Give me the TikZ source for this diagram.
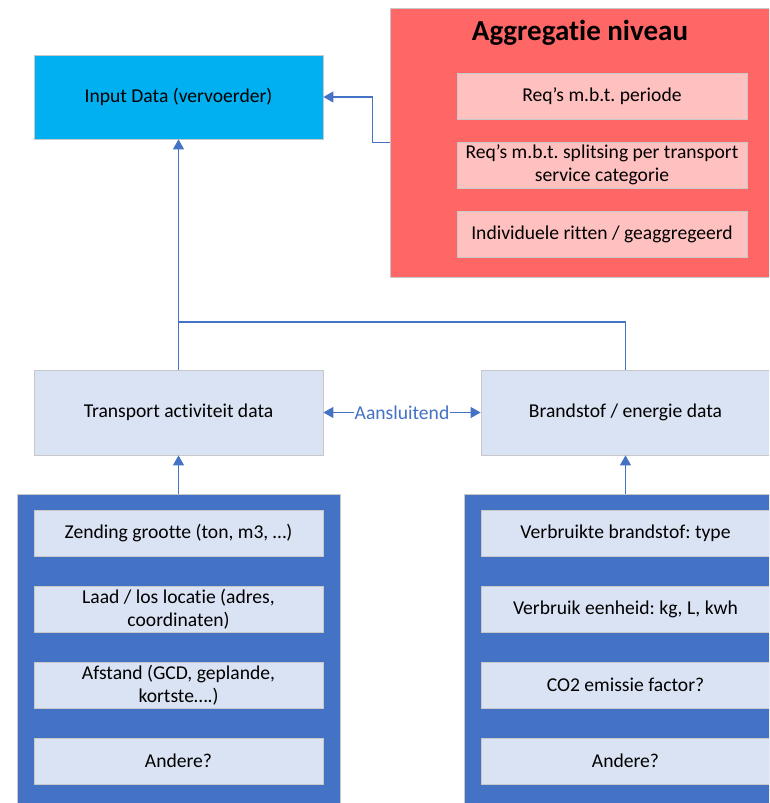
\documentclass[tikz,border=0pt]{standalone}
\usepackage{fontspec}
\setmainfont{Carlito}[Ligatures=CommonOff]
\usetikzlibrary{arrows.meta}

\definecolor{cyanbox}{HTML}{00B0F0}
\definecolor{redbox}{HTML}{FF6666}
\definecolor{pinkbox}{HTML}{FFC0C0}
\definecolor{palebox}{HTML}{DAE3F3}
\definecolor{darkbox}{HTML}{4472C4}
\definecolor{linecol}{HTML}{4472C4}
\definecolor{edgecol}{HTML}{C8C8C8}

\frenchspacing

\begin{document}
\begin{tikzpicture}[
    x=1pt, y=-1pt,
    font=\fontsize{19.6}{22.7}\selectfont,
    % Stijlen van de vakken
    databox/.style={rectangle, draw=edgecol, line width=0.8pt, fill=palebox,
        minimum width=289pt, minimum height=85pt, align=center, inner sep=2pt},
    itembox/.style={rectangle, draw=edgecol, line width=0.8pt, fill=palebox,
        minimum width=289pt, minimum height=46pt, align=center, inner sep=2pt},
    reqbox/.style={itembox, fill=pinkbox, minimum width=290pt},
    groupbox/.style={rectangle, draw=edgecol, line width=0.8pt, fill=darkbox,
        minimum width=323pt, minimum height=316pt},
    % Stijlen van de lijnen
    conn/.style={draw=linecol, line width=1.1pt},
    tip/.style={-{Triangle[length=10pt, width=11pt]}}
]

\clip (0,0) rectangle (769,803);

% ==========================================
% INPUT DATA EN AGGREGATIE NIVEAU
% ==========================================
\node[databox, fill=cyanbox, minimum height=84pt] (input) at (178.5,97) {Input Data (vervoerder)};

\node[groupbox, fill=redbox, minimum width=385pt, minimum height=269pt] (aggr) at (582.5,142.5) {};
\node[font=\fontsize{29}{32}\selectfont\bfseries] (aggrtitle) at (580,33) {Aggregatie niveau};
\node[reqbox] (periode) at (602,96) {Req’s m.b.t. periode};
\node[reqbox] (splitsing) at (602,165) {Req’s m.b.t. splitsing per transport\\service categorie};
\node[reqbox] (ritten) at (602,234) {Individuele ritten / geaggregeerd};

% ==========================================
% TRANSPORT EN BRANDSTOF
% ==========================================
\node[databox] (transport) at (178.5,412.5) {Transport activiteit data};
\node[databox] (brandstof) at (625.5,412.5) {Brandstof / energie data};

% Lijnen naar de input data
\coordinate (join) at (178.5,322);
\draw[conn, tip] (aggr.west) -- ++(-17,0) |- (input.east);
\draw[conn, tip] (transport.north) -- (input.south);
\draw[conn] (brandstof.north) |- (join);
\draw[conn, {Triangle[length=10pt, width=11pt]}-{Triangle[length=10pt, width=11pt]}]
    (transport.east) -- node[fill=white, text=linecol, inner sep=1pt] {Aansluitend} (brandstof.west);

% ==========================================
% DETAILS TRANSPORT (LINKS)
% ==========================================
\node[groupbox] (transgroup) at (178.5,652) {};
\node[itembox] (zending) at (178.5,533) {Zending grootte (ton, m3, …)};
\node[itembox] (locatie) at (178.5,609) {Laad / los locatie (adres,\\coordinaten)};
\node[itembox] (afstand) at (178.5,685) {Afstand (GCD, geplande,\\kortste….)};
\node[itembox] (andereT) at (178.5,761) {Andere?};
\draw[conn, tip] (transgroup.north) -- (transport.south);

% ==========================================
% DETAILS BRANDSTOF (RECHTS)
% ==========================================
\node[groupbox] (brandgroup) at (625.5,652) {};
\node[itembox] (soort) at (625.5,533) {Verbruikte brandstof: type};
\node[itembox] (eenheid) at (625.5,609) {Verbruik eenheid: kg, L, kwh};
\node[itembox] (emissie) at (625.5,685) {CO2 emissie factor?};
\node[itembox] (andereB) at (625.5,761) {Andere?};
\draw[conn, tip] (brandgroup.north) -- (brandstof.south);

\end{tikzpicture}
\end{document}
